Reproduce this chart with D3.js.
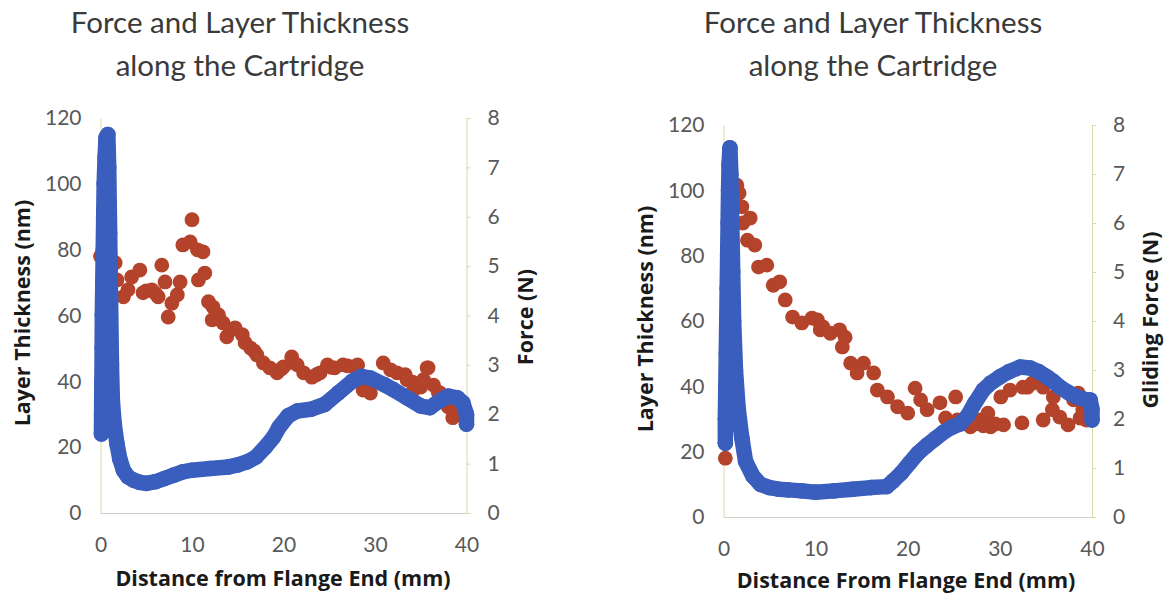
<!DOCTYPE html>
<html><head><meta charset="utf-8">
<script src="https://cdn.jsdelivr.net/npm/d3@7"></script>
<style>
html,body{margin:0;padding:0;background:#fff;}
svg{display:block;}
text{font-family:Lato,"Open Sans",sans-serif;}
</style></head>
<body>
<svg id="chart" width="1167" height="599"></svg>
<script>
// ---------- data ----------
const xTicks = [0, 10, 20, 30, 40];
const thicknessTicks = [0, 20, 40, 60, 80, 100, 120];
const forceTicks = [0, 1, 2, 3, 4, 5, 6, 7, 8];

const titleLines = ["Force and Layer Thickness", "along the Cartridge"];
const leftXLabel = "Distance from Flange End (mm)";
const rightXLabel = "Distance From Flange End (mm)";
const thicknessLabel = "Layer Thickness (nm)";
const leftForceLabel = "Force (N)";
const rightForceLabel = "Gliding Force (N)";

// left chart: layer thickness (nm)
const leftThickX = [0.1,0.12,0.15,0.18,0.2,0.25,0.3,0.35,0.4,0.5,0.6,0.8,0.9,1.0,1.1,1.2,1.3,1.5,1.8,2.1,2.5,3.0,3.6,4.3,5,6,7,8,9,10,12,14,15,16,17,18,18.9,19.5,20.5,21.5,23,24.5,26,27.5,28.5,29.5,31,32,33.5,35,36,37,38,39,39.6,40,40];
const leftThickY = [24,30,40,50,60,70,80,90,100,108,114,115,105,85,65,45,34,27,21,16.5,13,11,10,9.3,9,9.5,10.5,11.5,12.5,13,13.5,14,14.6,15.5,17,20,23,26,29.5,31,31.5,33,36.5,40,41.5,41,39,37.5,35,32.5,32,34,35.5,35,33.5,30,27];
// left chart: force (N)
const leftForceX = [0.0,1.6,1.8,2.5,3.0,3.4,4.3,4.65,5.0,5.6,6.0,6.3,6.7,7.05,7.4,7.8,8.4,8.7,9.0,9.8,10.0,10.6,11.2,10.7,11.4,11.8,12.3,12.2,12.9,13.4,13.8,14.2,14.7,15.5,15.8,16.4,16.8,17.1,17.8,18.5,19.3,19.8,20.0,20.9,21.0,21.5,22.2,23.1,23.6,24.0,24.8,25.2,25.6,26.5,27.0,27.6,28.1,28.7,29.1,29.5,30.9,31.7,32.4,33.3,33.5,34.1,34.2,35.0,35.3,35.7,35.8,36.4,36.9,37.1,37.5,38.0,38.2,38.5,39.1];
const leftForceY = [5.2,5.07,4.72,4.38,4.52,4.78,4.92,4.46,4.5,4.52,4.45,4.38,5.02,4.68,3.97,4.25,4.42,4.68,5.43,5.49,5.94,5.33,5.29,4.72,4.86,4.28,4.17,3.91,4.01,3.85,3.57,3.7,3.75,3.61,3.45,3.34,3.28,3.2,3.04,2.94,2.84,2.92,2.96,3.16,3.05,3.0,2.84,2.75,2.8,2.84,3.0,2.95,2.94,3.0,2.98,2.96,3.0,2.49,2.49,2.43,3.04,2.9,2.84,2.8,2.7,2.65,2.49,2.55,2.7,2.94,2.94,2.59,2.45,2.43,2.35,2.15,2.15,1.93,2.03];

// right chart: layer thickness (nm)
const rightThickX = [0.2,0.2,0.25,0.3,0.35,0.4,0.45,0.5,0.55,0.6,0.7,0.8,0.9,1.0,1.1,1.3,1.6,2.0,2.4,3.2,4,5,6,7,8.5,10,12,14,16,17.7,18.4,19.3,20.2,21.1,22.1,23,23.9,24.8,25.7,26.5,27.3,28.2,29,30,31,32.2,33.3,34.2,35.1,35.8,36.5,37.5,38.4,39.2,39.8,40,40];
const rightThickY = [22.6,30,40,50,60,70,80,90,100,108,113,105,90,75,60,45,33,24,17,12.5,10,9,8.5,8.3,8,7.6,8,8.5,9,9.3,11,13.5,16.5,19.5,22,24,26,27.5,28.5,31,35,38.9,41,42.9,44.5,45.9,45.6,44.5,42.9,41.5,39.8,38,36.7,36,35.8,33,29.7];
// right chart: gliding force (N)
const rightForceX = [0.2,1.45,1.7,2.0,2.1,2.6,2.9,3.4,3.8,4.7,5.4,6.1,6.7,7.5,8.5,9.6,10.2,10.5,10.8,11.6,12.6,12.9,13.2,13.8,14.5,15.2,16.3,16.7,17.8,18.9,20.0,20.8,21.4,22.1,23.5,24.1,25.2,25.4,26.8,27.3,27.9,28.2,28.7,29.0,29.5,30.1,30.4,31.1,32.4,32.5,33.0,33.5,34.7,34.7,35.7,35.8,36.5,37.4,38.0,38.5,38.7,39.0,39.4];
const rightForceY = [1.2,6.77,6.61,6.33,6.0,5.65,6.1,5.55,5.1,5.14,4.73,4.8,4.43,4.08,3.96,4.06,4.02,3.82,3.88,3.75,3.82,3.47,3.67,3.14,2.94,3.14,2.94,2.59,2.45,2.25,2.12,2.63,2.39,2.19,2.33,2.02,2.45,1.98,1.84,1.9,1.98,1.86,2.12,1.84,1.9,2.45,1.88,2.59,1.92,2.65,2.65,2.73,2.65,1.98,2.19,2.45,2.04,1.88,2.39,2.53,2.02,2.19,1.98];

// ---------- drawing ----------
const svg = d3.select("#chart");
const BLUE = "#3a5ebd", RED = "#b4432b";
const AXIS_Y = "#d6dbaa", AXIS_X = "#cfcfcf", TICK_TXT = "#595959", LABEL = "#1a1a1a";
const LABEL_FONT = "'Open Sans', Lato, sans-serif";
const LABEL_SIZE = 21.5;

function drawChart(cfg) {
  const g = svg.append("g");
  const x = d3.scaleLinear().domain([0, 40]).range([cfg.x0, cfg.x1]);
  const yL = d3.scaleLinear().domain([0, 120]).range([cfg.y0, cfg.y1]);
  const yR = d3.scaleLinear().domain([0, 8]).range([cfg.y0, cfg.y1]);

  // axes
  const ax = g.append("g").attr("transform", `translate(0,${cfg.y0})`)
    .call(d3.axisBottom(x).tickValues(xTicks).tickSize(0).tickPadding(24));
  ax.select(".domain").attr("stroke", AXIS_X);
  const al = g.append("g").attr("transform", `translate(${cfg.x0},0)`)
    .call(d3.axisLeft(yL).tickValues(thicknessTicks).tickSize(0).tickPadding(19));
  al.select(".domain").attr("stroke", AXIS_Y);
  const ar = g.append("g").attr("transform", `translate(${cfg.x1},0)`)
    .call(d3.axisRight(yR).tickValues(forceTicks).tickSize(4).tickPadding(17));
  ar.select(".domain").attr("stroke", AXIS_Y);
  ar.selectAll(".tick line").attr("stroke", AXIS_Y);
  g.selectAll(".tick text").attr("fill", TICK_TXT).attr("font-size", 21)
    .style("font-family", "Lato, 'Open Sans', sans-serif");

  // red force series
  const fd = cfg.fx.map((v, i) => [v, cfg.fy[i]]);
  g.append("g").selectAll("circle").data(fd).join("circle")
    .attr("cx", d => x(d[0])).attr("cy", d => yR(d[1])).attr("r", 7.4).attr("fill", RED);

  // blue thickness series (dense markers -> thick band)
  const td = cfg.tx.map((v, i) => [v, cfg.ty[i]]);
  g.append("path").datum(td)
    .attr("d", d3.line().x(d => x(d[0])).y(d => yL(d[1])))
    .attr("fill", "none").attr("stroke", BLUE).attr("stroke-width", 15.5)
    .attr("stroke-linejoin", "round").attr("stroke-linecap", "round");
  g.append("g").selectAll("circle").data(td).join("circle")
    .attr("cx", d => x(d[0])).attr("cy", d => yL(d[1])).attr("r", 7.8).attr("fill", BLUE);

  // titles
  const t = g.append("text").attr("text-anchor", "middle").attr("fill", "#3a3a3a")
    .attr("font-size", 29.5);
  titleLines.forEach((s, i) => t.append("tspan").attr("x", cfg.tcx).attr("y", 33 + i * 43).text(s));

  g.append("text").attr("x", cfg.xlx).attr("y", cfg.xly).attr("text-anchor", "middle")
    .style("font-family", LABEL_FONT)
    .attr("font-weight", "bold").attr("font-size", LABEL_SIZE).attr("fill", LABEL).text(cfg.xLabel);
  g.append("text").attr("transform", `translate(${cfg.ylx},${cfg.yly}) rotate(-90)`)
    .attr("text-anchor", "middle").attr("dy", "0.35em").style("font-family", LABEL_FONT)
    .attr("font-weight", "bold").attr("font-size", LABEL_SIZE).attr("fill", LABEL).text(thicknessLabel);
  g.append("text").attr("transform", `translate(${cfg.yrx},${cfg.yry}) rotate(-90)`)
    .attr("text-anchor", "middle").attr("dy", "0.35em").style("font-family", LABEL_FONT)
    .attr("font-weight", "bold").attr("font-size", LABEL_SIZE).attr("fill", LABEL).text(cfg.rLabel);
}

drawChart({
  x0: 100.5, x1: 466.5, y0: 513, y1: 118,
  tx: leftThickX, ty: leftThickY, fx: leftForceX, fy: leftForceY,
  tcx: 240, xLabel: leftXLabel, xlx: 283, xly: 586,
  ylx: 22, yly: 313, yrx: 525, yry: 317, rLabel: leftForceLabel
});
drawChart({
  x0: 723.5, x1: 1092, y0: 517, y1: 125,
  tx: rightThickX, ty: rightThickY, fx: rightForceX, fy: rightForceY,
  tcx: 873, xLabel: rightXLabel, xlx: 906, xly: 588,
  ylx: 645, yly: 319, yrx: 1150, yry: 320, rLabel: rightForceLabel
});
</script>
</body></html>
